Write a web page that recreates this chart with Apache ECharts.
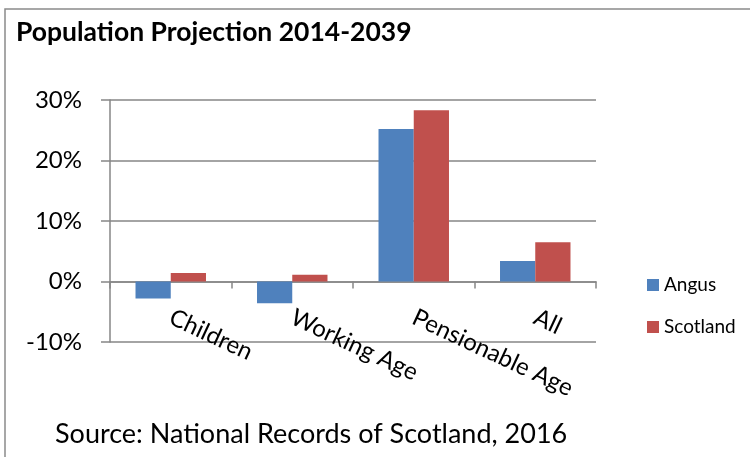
<!DOCTYPE html>
<html>
<head>
<meta charset="utf-8">
<script src="https://cdn.jsdelivr.net/npm/echarts@6/dist/echarts.min.js"></script>
<style>
  html, body { margin: 0; padding: 0; background: #fff; }
  #chart { width: 750px; height: 457px; }
</style>
</head>
<body>
<div id="chart"></div>
<script>
// Projected population change, 2014-2039 (percent)
const categories = ['Children', 'Working Age', 'Pensionable Age', 'All'];
const angus = [-2.8, -3.6, 25.2, 3.4];
const scotland = [1.4, 1.1, 28.3, 6.5];
const seriesNames = ['Angus', 'Scotland'];
const yTicks = { min: -10, max: 30, step: 10 };

const FONT = 'Lato, "Open Sans", sans-serif';
const AXIS_GREY = '#868686';

const chart = echarts.init(document.getElementById('chart'), null, { renderer: 'canvas' });

chart.setOption({
  animation: false,
  backgroundColor: '#ffffff',
  textStyle: { fontFamily: FONT, color: '#000' },
  title: {
    text: 'Population Projection 2014-2039',
    left: 16,
    top: 19,
    padding: 0,
    textStyle: { fontFamily: FONT, fontSize: 26.5, fontWeight: 'bold', color: '#000' }
  },
  graphic: [
    {
      type: 'rect',
      shape: { x: 5, y: 9, width: 800, height: 500 },
      style: { fill: 'none', stroke: '#8a8a8a', lineWidth: 1.5 },
      silent: true
    },
    {
      type: 'text',
      left: 55,
      top: 421,
      style: {
        text: 'Source: National Records of Scotland, 2016',
        font: '27px ' + FONT,
        fill: '#000'
      },
      silent: true
    }
  ],
  legend: {
    orient: 'vertical',
    left: 642,
    top: 270,
    itemWidth: 12,
    itemHeight: 12,
    itemGap: 22,
    icon: 'rect',
    textStyle: { fontFamily: FONT, fontSize: 19, color: '#000', lineHeight: 20 },
    data: seriesNames
  },
  grid: {
    left: 110,
    right: 154,
    top: 100,
    bottom: 115,
    containLabel: false
  },
  xAxis: {
    type: 'category',
    data: categories,
    axisLine: { onZero: true, lineStyle: { color: AXIS_GREY, width: 1.5 } },
    axisTick: { show: true, length: 7, interval: 0, alignWithLabel: false, lineStyle: { color: AXIS_GREY, width: 1.5 } },
    axisLabel: {
      interval: 0,
      rotate: -25,
      margin: -26,
      fontSize: 24,
      fontFamily: FONT,
      color: '#000'
    }
  },
  yAxis: {
    type: 'value',
    min: yTicks.min,
    max: yTicks.max,
    interval: yTicks.step,
    axisLine: { show: true, lineStyle: { color: AXIS_GREY, width: 1.5 } },
    axisTick: { show: true, length: 9, lineStyle: { color: AXIS_GREY, width: 1.5 } },
    splitLine: { show: true, lineStyle: { color: AXIS_GREY, width: 1.5 } },
    axisLabel: {
      formatter: '{value}%',
      margin: 28,
      fontSize: 24,
      fontFamily: FONT,
      color: '#000'
    }
  },
  series: [
    {
      name: seriesNames[0],
      type: 'bar',
      data: angus,
      barGap: '0%',
      barCategoryGap: '42%',
      itemStyle: { color: '#4F81BD' }
    },
    {
      name: seriesNames[1],
      type: 'bar',
      data: scotland,
      barGap: '0%',
      barCategoryGap: '42%',
      itemStyle: { color: '#C0504D' }
    }
  ]
});
</script>
</body>
</html>
